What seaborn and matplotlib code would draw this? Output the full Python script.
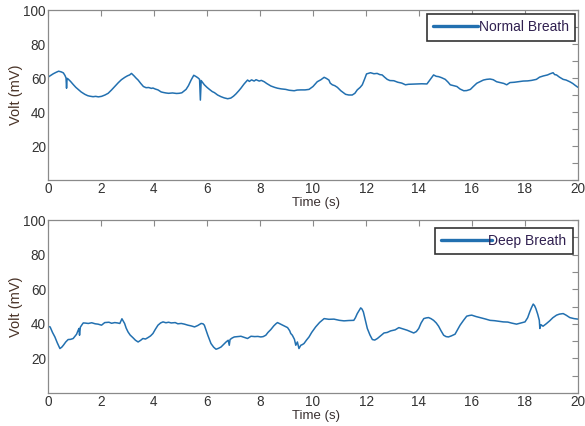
import matplotlib
matplotlib.use("Agg")
import matplotlib.pyplot as plt
import seaborn as sns
from matplotlib.ticker import MultipleLocator

# Normal breath trace (time in s, voltage in mV)
normal_t = [
    0.0, 0.1, 0.2, 0.3, 0.4, 0.45, 0.5, 0.58, 0.64, 0.68, 0.70, 0.72, 0.76, 0.85, 0.95,
    1.05, 1.14, 1.25, 1.39, 1.5, 1.58, 1.7, 1.8, 1.9, 2.02, 2.15, 2.27, 2.4, 2.52, 2.65,
    2.77, 2.9, 3.0, 3.08, 3.15, 3.25, 3.32, 3.4, 3.5, 3.6, 3.7, 3.8, 3.9, 3.96, 4.05,
    4.15, 4.27, 4.35, 4.45, 4.55, 4.7, 4.85, 4.95, 5.05, 5.15, 5.21, 5.3, 5.4, 5.5, 5.57,
    5.65, 5.72, 5.75, 5.78, 5.9, 6.0, 6.1, 6.2, 6.28, 6.4, 6.53, 6.65, 6.78, 6.9, 7.0,
    7.09, 7.2, 7.28, 7.4, 7.53, 7.6, 7.68, 7.78, 7.85, 7.97, 8.05, 8.16, 8.25, 8.41, 8.55,
    8.66, 8.8, 8.97, 9.1, 9.29, 9.4, 9.54, 9.7, 9.85, 10.0, 10.16, 10.3, 10.42, 10.5, 10.6,
    10.65, 10.73, 10.82, 10.92, 11.05, 11.23, 11.35, 11.48, 11.58, 11.67, 11.78, 11.86, 11.95, 12.02, 12.17,
    12.3, 12.42, 12.52, 12.61, 12.7, 12.8, 12.9, 13.05, 13.2, 13.35, 13.49, 13.6, 13.75, 13.93, 14.1,
    14.3, 14.42, 14.55, 14.65, 14.74, 14.85, 14.99, 15.1, 15.18, 15.3, 15.43, 15.55, 15.69, 15.8, 15.94,
    16.05, 16.18, 16.3, 16.43, 16.55, 16.68, 16.8, 16.93, 17.1, 17.2, 17.31, 17.43, 17.6, 17.75, 17.93,
    18.1, 18.25, 18.43, 18.55, 18.69, 18.85, 18.95, 19.06, 19.12, 19.19, 19.3, 19.44, 19.55, 19.69, 19.8,
    19.9, 20.0,
]
normal_v = [
    60.5, 61.5, 62.5, 63.3, 64.0, 63.8, 63.6, 63.0, 61.5, 60.0, 54.0, 59.8, 59.4, 58.0, 56.2,
    54.5, 53.3, 51.8, 50.4, 49.6, 49.3, 49.0, 49.2, 48.9, 49.2, 50.0, 51.0, 53.0, 55.0, 57.2,
    59.0, 60.4, 61.3, 61.8, 62.7, 61.2, 60.0, 58.8, 56.8, 55.0, 54.3, 54.4, 53.9, 54.1, 53.5,
    53.0, 51.8, 51.5, 51.2, 51.0, 51.2, 50.9, 51.0, 51.3, 52.5, 53.3, 55.5, 58.8, 61.6, 61.0,
    60.2, 59.2, 47.0, 58.5, 56.0, 54.5, 53.2, 52.0, 51.4, 50.0, 49.0, 48.3, 47.8, 48.2, 49.3,
    50.6, 52.5, 54.0, 56.5, 58.8, 58.0, 58.9, 58.2, 59.0, 58.2, 58.6, 57.8, 56.8, 55.3, 54.5,
    54.0, 53.6, 53.3, 52.8, 52.5, 52.9, 53.0, 53.0, 53.3, 55.0, 57.8, 59.0, 60.4, 59.8, 58.8,
    57.0, 56.0, 55.5, 54.5, 52.5, 50.4, 50.0, 50.0, 51.0, 53.0, 54.5, 56.0, 59.5, 62.4, 63.1,
    62.5, 62.7, 62.0, 61.8, 60.5, 59.2, 58.5, 58.4, 57.5, 57.0, 56.0, 56.3, 56.4, 56.5, 56.6,
    56.5, 59.0, 61.8, 61.0, 60.8, 60.2, 59.2, 57.5, 56.0, 55.5, 55.0, 53.5, 52.5, 52.6, 53.3,
    55.0, 56.9, 57.8, 58.8, 59.2, 59.4, 59.0, 57.8, 57.2, 56.8, 56.0, 57.3, 57.5, 57.8, 58.2,
    58.3, 58.6, 59.2, 60.5, 61.2, 61.8, 62.5, 63.1, 62.0, 61.8, 60.5, 59.2, 58.8, 57.8, 56.8,
    55.6, 54.5,
]

# Deep breath trace
deep_t = [
    0.0, 0.08, 0.17, 0.26, 0.35, 0.45, 0.52, 0.58, 0.67, 0.76, 0.85, 0.95, 1.02, 1.08, 1.13,
    1.17, 1.19, 1.22, 1.27, 1.33, 1.42, 1.52, 1.65, 1.78, 1.89, 2.02, 2.14, 2.3, 2.4, 2.52,
    2.62, 2.71, 2.75, 2.79, 2.84, 2.89, 2.95, 3.02, 3.1, 3.21, 3.3, 3.4, 3.5, 3.58, 3.68,
    3.77, 3.87, 3.96, 4.05, 4.15, 4.25, 4.34, 4.45, 4.55, 4.65, 4.8, 4.9, 5.03, 5.15, 5.28,
    5.4, 5.53, 5.65, 5.78, 5.85, 5.9, 5.96, 6.03, 6.1, 6.15, 6.25, 6.34, 6.43, 6.53, 6.62,
    6.72, 6.8, 6.84, 6.87, 6.95, 7.03, 7.15, 7.28, 7.4, 7.53, 7.66, 7.8, 7.92, 8.03, 8.12,
    8.22, 8.3, 8.41, 8.52, 8.6, 8.66, 8.75, 8.85, 8.95, 9.04, 9.12, 9.16, 9.22, 9.3, 9.35,
    9.41, 9.47, 9.54, 9.6, 9.66, 9.75, 9.85, 9.95, 10.1, 10.25, 10.42, 10.6, 10.79, 11.0, 11.17,
    11.35, 11.54, 11.6, 11.67, 11.75, 11.8, 11.85, 11.9, 11.97, 12.05, 12.15, 12.24, 12.33, 12.43, 12.55,
    12.68, 12.8, 12.93, 13.1, 13.24, 13.4, 13.55, 13.68, 13.8, 13.9, 13.99, 14.08, 14.18, 14.27, 14.36,
    14.45, 14.55, 14.65, 14.74, 14.83, 14.93, 15.02, 15.11, 15.22, 15.36, 15.45, 15.55, 15.68, 15.8, 15.9,
    15.99, 16.15, 16.3, 16.5, 16.68, 16.85, 17.0, 17.18, 17.35, 17.5, 17.68, 17.85, 18.0, 18.1, 18.18,
    18.25, 18.31, 18.36, 18.41, 18.48, 18.54, 18.56, 18.6, 18.68, 18.8, 18.93, 19.05, 19.19, 19.3, 19.44,
    19.55, 19.69, 19.85, 20.0,
]
deep_v = [
    38.5, 38.2, 35.0, 32.4, 29.0, 25.7, 26.5, 27.6, 29.5, 30.9, 31.0, 31.5, 32.8, 34.0, 36.0,
    37.3, 33.4, 38.0, 39.2, 40.5, 40.4, 40.2, 40.6, 40.0, 39.8, 39.2, 40.7, 40.9, 40.3, 40.7,
    40.5, 40.2, 41.5, 42.9, 41.5, 40.2, 37.5, 35.3, 33.5, 31.9, 30.5, 29.5, 30.5, 31.5, 31.2,
    32.0, 33.0, 34.4, 36.8, 39.2, 40.5, 41.1, 40.6, 40.9, 40.5, 40.7, 40.0, 40.2, 39.8, 39.2,
    38.8, 38.2, 39.0, 40.2, 40.0, 39.2, 36.5, 33.4, 30.5, 28.6, 26.5, 25.3, 25.8, 26.6, 28.0,
    29.5, 30.5, 27.6, 30.9, 31.8, 32.4, 32.6, 32.8, 32.2, 31.5, 32.8, 32.6, 32.7, 32.4, 32.6,
    33.4, 35.0, 36.7, 38.8, 40.0, 40.7, 40.0, 39.2, 38.5, 37.8, 36.0, 34.4, 33.4, 31.0, 27.6,
    29.5, 25.7, 27.6, 28.0, 28.6, 30.5, 32.4, 35.0, 38.2, 40.8, 43.0, 42.6, 42.7, 42.0, 41.7,
    41.9, 42.0, 43.5, 45.9, 48.0, 49.2, 48.5, 46.9, 42.5, 37.3, 33.5, 30.9, 30.6, 31.5, 33.0,
    34.7, 35.0, 35.9, 36.5, 37.8, 37.0, 36.3, 35.5, 34.7, 35.5, 37.3, 40.5, 43.0, 43.4, 43.6,
    43.0, 42.0, 40.5, 38.6, 36.0, 33.4, 32.6, 32.4, 33.0, 34.0, 36.5, 39.2, 42.0, 44.4, 44.8,
    45.0, 44.2, 43.6, 42.8, 42.0, 41.8, 41.5, 41.1, 41.0, 40.4, 39.8, 40.5, 41.1, 43.5, 46.9,
    49.5, 51.4, 50.5, 48.8, 45.5, 42.0, 37.3, 39.5, 38.6, 40.0, 41.7, 43.5, 45.0, 45.6, 45.9,
    45.0, 43.6, 43.0, 42.7,
]

x_ticks = [0, 2, 4, 6, 8, 10, 12, 14, 16, 18, 20]
y_ticks = [0, 20, 40, 60, 80, 100]

LINE_COLOR = "#2270b0"
TEXT_COLOR = "#3a3030"
SPINE_COLOR = "#8a8a8a"

sns.set_style("white")
plt.rcParams["font.family"] = ["Liberation Sans", "DejaVu Sans"]

fig = plt.figure(figsize=(5.85, 4.26), dpi=100)
ax_top = fig.add_axes([48 / 585, 1 - 180 / 426, 530 / 585, 170 / 426])
ax_bot = fig.add_axes([48 / 585, 1 - 393 / 426, 530 / 585, 173 / 426])

panels = [
    (ax_top, normal_t, normal_v, "Normal Breath", (0.994, 0.976), 3.2, 0.05),
    (ax_bot, deep_t, deep_v, "Deep Breath", (0.99, 0.954), 3.7, -0.3),
]

for ax, t, v, name, anchor, hlen, hpad in panels:
    sns.lineplot(x=t, y=v, ax=ax, color=LINE_COLOR, linewidth=1.1, label=name, sort=False)
    ax.set_xlim(0, 20)
    ax.set_ylim(0, 100)
    ax.set_xticks(x_ticks)
    ax.set_yticks(y_ticks)
    ax.set_yticklabels([""] + [str(y) for y in y_ticks[1:]])
    ax.yaxis.set_minor_locator(MultipleLocator(10))
    ax.tick_params(which="both", direction="in", length=4, width=0.8, color=SPINE_COLOR,
                   top=True, right=True, labelsize=9.8, labelcolor="#333333", pad=1.5)
    for spine in ax.spines.values():
        spine.set_color(SPINE_COLOR)
        spine.set_linewidth(0.9)
    ax.set_xlabel("Time (s)", fontsize=9.5, color=TEXT_COLOR)
    ax.set_ylabel("Volt (mV)", fontsize=10.5, color="#4a3428")
    ax.xaxis.set_label_coords(0.505, -0.1)
    ax.yaxis.set_label_coords(-0.047, 0.5)
    leg = ax.legend(loc="upper right", bbox_to_anchor=anchor, borderaxespad=0,
                    fontsize=10, handlelength=hlen, handletextpad=hpad, borderpad=0.45,
                    fancybox=False, framealpha=1, edgecolor="#333333")
    leg.get_frame().set_linewidth(1.2)
    for line in leg.get_lines():
        line.set_linewidth(2.4)
    for text in leg.get_texts():
        text.set_color("#302050")

fig.savefig("out.png", dpi=100)
